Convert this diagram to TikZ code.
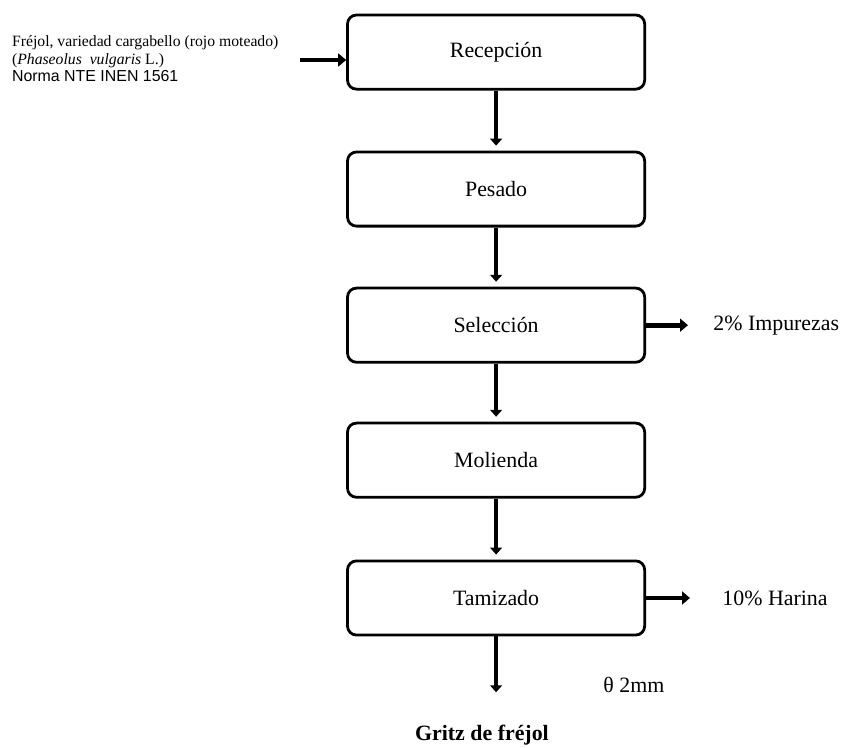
\documentclass[tikz,border=0pt]{standalone}
\usepackage{fontspec}
\setmainfont{Liberation Serif}
\newfontfamily\arialfont{Liberation Sans}
\usetikzlibrary{arrows.meta}
\tikzset{
  procbox/.style={draw, line width=2.8pt, rounded corners=9pt, minimum width=10.5cm,
    minimum height=2.62cm, inner sep=0pt, font=\fontsize{22}{26}\selectfont},
  flowarrow/.style={line width=4.2pt, -{Triangle[width=12pt,length=7pt]}, shorten >=5pt},
  outarrow/.style={line width=4.8pt, -{Triangle[width=13pt,length=8pt]}},
  sidetext/.style={anchor=west, inner sep=0pt, font=\fontsize{22}{26}\selectfont}
}
\begin{document}
\begin{tikzpicture}[x=1cm,y=1cm]
\useasboundingbox (0,0) rectangle (30,-26.4);

\node[procbox] (recep) at (17.53,-1.84) {Recepción};
\node[procbox] (pesado) at (17.53,-6.68) {Pesado};
\node[procbox] (selec) at (17.53,-11.49) {Selección};
\node[procbox] (molienda) at (17.53,-16.26) {Molienda};
\node[procbox] (tamiz) at (17.53,-21.13) {Tamizado};

\node[anchor=north west, align=left, inner sep=0pt, font=\fontsize{15.8}{17.8}\selectfont] (materia) at (0.42,-1.25)
  {Fréjol, variedad cargabello (rojo moteado)\\
   (\textit{Phaseolus\ \ vulgaris} L.)\\
   {\arialfont\fontsize{16}{17.8}\selectfont Norma NTE INEN 1561}};

\coordinate (entrada) at (10.6,-2.12);
\draw[outarrow] (entrada) -- (entrada -| recep.west);

\draw[flowarrow] (recep) -- (pesado);
\draw[flowarrow] (pesado) -- (selec);
\draw[flowarrow] (selec) -- (molienda);
\draw[flowarrow] (molienda) -- (tamiz);

\node[sidetext] (impurezas) at (25.2,-11.49) {2\% Impurezas};
\node[sidetext] (harina) at (25.52,-21.13) {10\% Harina};
\coordinate (fin1) at (24.31,-11.49);
\coordinate (fin2) at (24.38,-21.13);
\draw[outarrow] (selec.east) -- (fin1);
\draw[outarrow] (tamiz.east) -- (fin2);

\coordinate (salida) at (17.53,-24.46);
\draw[flowarrow, shorten >=0pt] (tamiz) -- (salida);
\node[font=\fontsize{22}{26}\selectfont] (malla) at (22.4,-24.2) {θ 2mm};
\node[font=\fontsize{22}{26}\selectfont\bfseries] (gritz) at (17.03,-25.97) {Gritz de fréjol};
\end{tikzpicture}
\end{document}
